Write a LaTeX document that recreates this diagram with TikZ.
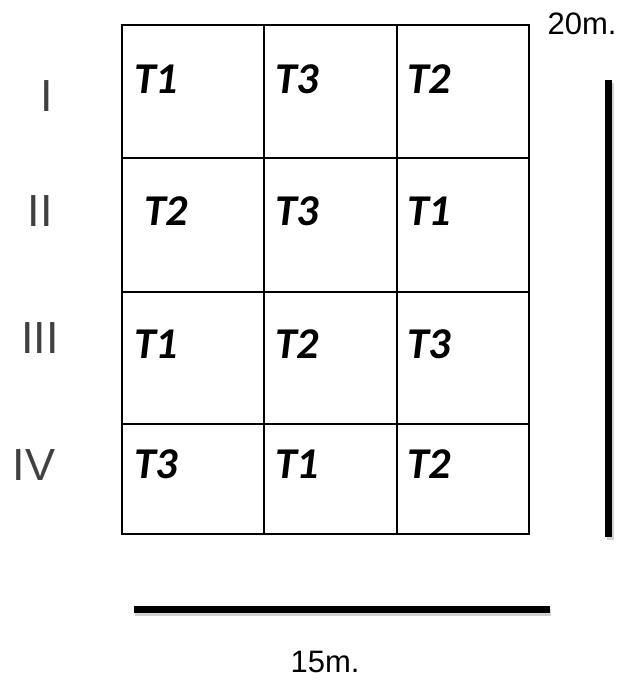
\documentclass[tikz,border=0pt]{standalone}
\usepackage{fontspec}
\setmainfont{Liberation Sans}
\newfontfamily\cellfont{Carlito}

\begin{document}
\begin{tikzpicture}[
    x=1pt, y=-1pt,
    grid/.style={line width=1.8pt, black},
    cell/.style={font=\cellfont\bfseries\itshape\fontsize{44}{44}\selectfont,
                 anchor=base west, inner sep=0pt},
    bloc/.style={font=\fontsize{45}{45}\selectfont, inner sep=0pt,
                 anchor=base, text=black!75},
    bar/.style={line width=7pt, black},
    barshade/.style={line width=7pt, black!18},
    dim/.style={font=\fontsize{31}{31}\selectfont, inner sep=0pt},
]
\useasboundingbox (0,0) rectangle (623,681);

% ── Parcelas (4 bloques x 3 columnas) ──
\draw[grid] (122,25) rectangle (529,534);
\draw[grid] (264,25) -- (264,534);
\draw[grid] (397,25) -- (397,534);
\draw[grid] (122,158) -- (529,158);
\draw[grid] (122,292) -- (529,292);
\draw[grid] (122,424) -- (529,424);

% ── Bloques ──
\node[bloc] (b1) at (47,111) {I};
\node[bloc] (b2) at (40,226) {II};
\node[bloc] (b3) at (40,353) {III};
\node[bloc] (b4) at (34,480) {IV};

% ── Tratamientos ──
\node[cell] (c11) at (134,93)  {T1};
\node[cell] (c12) at (275,93)  {T3};
\node[cell] (c13) at (407,93)  {T2};
\node[cell] (c21) at (144,225) {T2};
\node[cell] (c22) at (275,225) {T3};
\node[cell] (c23) at (407,225) {T1};
\node[cell] (c31) at (134,358) {T1};
\node[cell] (c32) at (275,358) {T2};
\node[cell] (c33) at (407,358) {T3};
\node[cell] (c41) at (134,478) {T3};
\node[cell] (c42) at (275,478) {T1};
\node[cell] (c43) at (407,478) {T2};

% ── Escalas ──
\coordinate (hl) at (134,609);
\coordinate (hr) at (550,609);
\coordinate (vt) at (608,80);
\coordinate (vb) at (608,537);
\draw[barshade] ([shift={(1,3)}]hl) -- ([shift={(1,3)}]hr);
\draw[barshade] ([shift={(2,3)}]vt) -- ([shift={(2,3)}]vb);
\draw[bar] (hl) -- (hr);
\draw[bar] (vt) -- (vb);
\node[dim] (ancho) at (325,662) {15m.};
\node[dim] (largo) at (582,24)  {20m.};
\end{tikzpicture}
\end{document}
